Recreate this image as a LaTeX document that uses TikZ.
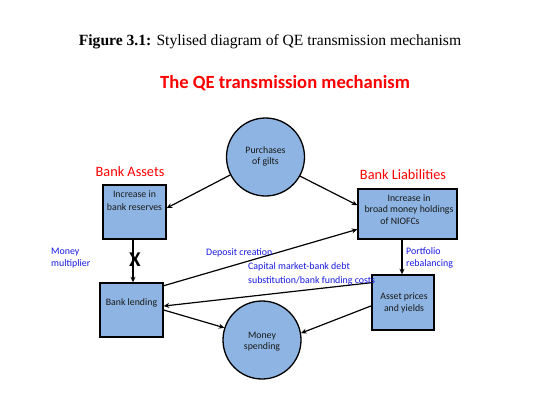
\documentclass[tikz,border=0pt]{standalone}
\usepackage{fontspec}
\setmainfont{Liberation Serif}
\newfontfamily\calfont{Carlito}
\usetikzlibrary{arrows.meta}
\definecolor{boxblue}{RGB}{141,180,226}
\definecolor{lblblue}{RGB}{25,25,225}
\begin{document}
\begin{tikzpicture}[x=1pt,y=-1pt,
  boxnode/.style={draw=black,line width=1.4pt,fill=boxblue,inner sep=0pt},
  circnode/.style={circle,draw=black,line width=1.3pt,fill=boxblue,inner sep=0pt},
  intext/.style={font=\calfont\fontsize{9.8}{11.5}\selectfont,text=black!90,align=center,inner sep=0pt},
  bluelbl/.style={font=\calfont\fontsize{9.9}{11.5}\selectfont,text=lblblue,align=left,anchor=west,inner sep=0pt},
  redlbl/.style={font=\calfont\fontsize{14.3}{16}\selectfont,text=red,inner sep=0pt},
  arr/.style={line width=1.2pt,-{Stealth[length=5.5pt,width=5pt]}}]
\useasboundingbox[fill=white] (0,0) rectangle (533,415);
% titles
\node[font=\fontsize{15.6}{18}\selectfont,inner sep=0pt] (fig) at (270,42) {\textbf{Figure 3.1:} Stylised diagram of QE transmission mechanism};
\node[font=\calfont\bfseries\fontsize{18.6}{20}\selectfont,text=red,inner sep=0pt] (ttl) at (285,83) {The QE transmission mechanism};
% shapes
\node[circnode,minimum size=78pt] (pur) at (265.5,157) {};
\node[circnode,minimum size=78pt] (mon) at (262,340) {};
\node[boxnode,minimum width=63pt,minimum height=54pt] (res) at (134.5,212) {};
\node[boxnode,minimum width=99pt,minimum height=50pt] (liab) at (407.5,214) {};
\node[boxnode,minimum width=62pt,minimum height=55pt] (ast) at (403,302.5) {};
\node[boxnode,minimum width=63pt,minimum height=54pt] (lend) at (131.5,310) {};
% texts in shapes
\node[intext] (purt) at (265.5,156.5) {Purchases\\of gilts};
\node[intext] (mont) at (262,341.5) {Money\\spending};
\node[intext,font=\calfont\fontsize{9.8}{13}\selectfont] (rest) at (134.5,200.5) {Increase in\\bank reserves};
\node[intext,font=\calfont\fontsize{9.8}{11.5}\selectfont] (liabt) at (409,209.5) {Increase in\\broad money holdings\\\hspace*{-18pt}of NIOFCs};
\node[intext,font=\calfont\fontsize{9.8}{12}\selectfont] (astt) at (404,303) {Asset prices\\and yields};
\node[intext] (lendt) at (131.5,303) {Bank lending};
% red headings
\node[redlbl] (assets) at (130,172) {Bank Assets};
\node[redlbl] (liabs) at (403,175) {Bank Liabilities};
% connectors
\draw[arr] (pur.207) -- (res.7);
\draw[arr] (pur.-29) -- (liab.170);
\draw[arr] (lend.37) -- (liab.197);
\draw[arr] (res.south -| 133,0) coordinate (rs) -- (rs |- lend.north);
\draw[arr] (ast.north -| 402,0) coordinate (as) (as |- liab.south) -- (as |- ast.north);
\draw[arr] (ast.148) -- (lend.7);
\draw[arr] (lend.0) -- (mon.162);
\draw[arr] (ast.186) -- (mon.10);
\node[font=\calfont\bfseries\fontsize{21}{21}\selectfont,inner sep=0pt] (xmark) at (135,260) {X};
% blue labels
\node[bluelbl] (mm) at (51,258) {Money\\multiplier};
\node[bluelbl] (dc) at (206,253) {Deposit creation};
\node[bluelbl] (cm) at (248,267) {Capital market-bank debt};
\node[bluelbl] (sb) at (248,281) {substitution/bank funding costs};
\node[bluelbl] (pr) at (406,258) {Portfolio\\rebalancing};
\end{tikzpicture}
\end{document}
